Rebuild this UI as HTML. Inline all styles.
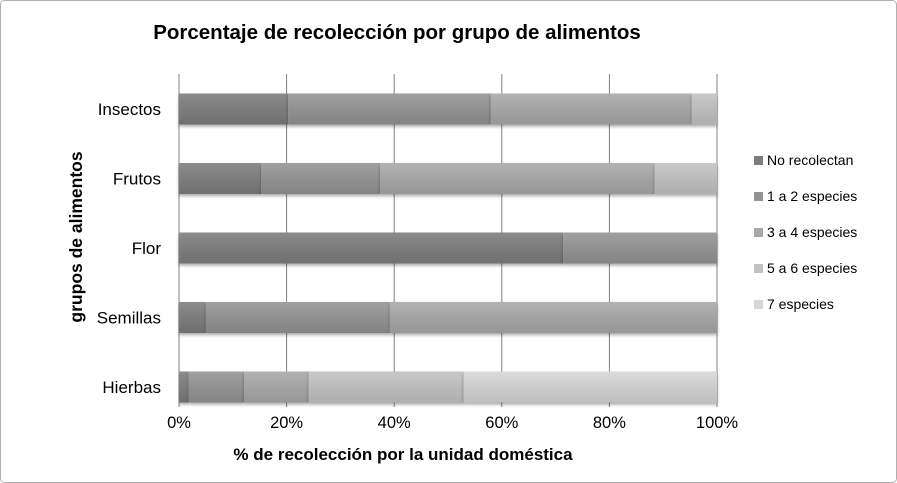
<!DOCTYPE html>
<html><head><meta charset="utf-8"><style>
body{margin:0;background:#fff;}
svg{display:block;font-family:"Liberation Sans",Calibri,sans-serif;}
</style></head><body>
<svg id="chart" width="897" height="483">
<defs>
<linearGradient id="sh" x1="0" y1="0" x2="0" y2="1"><stop offset="0" stop-color="#fff" stop-opacity="0.12"/><stop offset="1" stop-color="#000" stop-opacity="0.1"/></linearGradient>
<filter id="ds" x="-5%" y="-20%" width="110%" height="160%"><feDropShadow dx="0" dy="2" stdDeviation="1.5" flood-color="#000" flood-opacity="0.35"/></filter>
</defs>
<rect x="0.5" y="0.5" width="896" height="482" rx="4" fill="#fff" stroke="#b0b0b0"/>
<text x="397" y="39" text-anchor="middle" font-size="20.5" font-weight="bold" fill="#000">Porcentaje de recolección por grupo de alimentos</text>
<text transform="translate(82,237) rotate(-90)" text-anchor="middle" font-size="17.5" font-weight="bold">grupos  de alimentos</text>
<text x="403" y="460" text-anchor="middle" font-size="17" font-weight="bold">% de recolección por la unidad doméstica</text>
<g id="grid"></g><g id="bars"></g><g id="labels"></g><g id="legend"></g>
</svg>
<script>
const categories=["Insectos","Frutos","Flor","Semillas","Hierbas"];
const seriesNames=["No recolectan","1 a 2 especies","3 a 4 especies","5 a 6 especies","7 especies"];
const noRecolectan=[20.3,15.3,71.4,5.0,1.8];
const unoADos=[37.6,22.1,28.6,34.2,10.3];
const tresACuatro=[37.4,51.0,0,60.8,12.0];
const cincoASeis=[4.7,11.6,0,0,28.8];
const siete=[0,0,0,0,47.1];
const xTicks=[0,20,40,60,80,100];
const series=[noRecolectan,unoADos,tresACuatro,cincoASeis,siete];
const colors=["#7c7c7c","#939393","#a8a8a8","#c2c2c2","#d6d6d6"];
const NS="http://www.w3.org/2000/svg";
const x=v=>179+v*5.38;
const yc=i=>109+i*69.5;
const bh=31;
function mk(t,a,p){const e=document.createElementNS(NS,t);for(const k in a)e.setAttribute(k,a[k]);p.appendChild(e);return e;}
const grid=document.getElementById('grid'),bars=document.getElementById('bars'),labels=document.getElementById('labels'),legend=document.getElementById('legend');
xTicks.forEach(t=>{
 const l=mk('line',{x1:x(t),x2:x(t),y1:74,y2:407,stroke:'#808080','stroke-width':1},grid);
 
 
 const tx=mk('text',{x:x(t),y:428,'text-anchor':'middle','font-size':16.5},labels);tx.textContent=t+'%';
 
 
});
categories.forEach((c,i)=>{
 const tx=mk('text',{x:161,y:yc(i)+6,'text-anchor':'end','font-size':17},labels);tx.textContent=c;
 
 
 let acc=0;
 series.forEach((s,k)=>{
  const v=s[i];if(v<=0)return;
  const r=mk('rect',{x:x(acc),y:yc(i)-bh/2,width:x(acc+v)-x(acc),height:bh,fill:colors[k],filter:'url(#ds)'},bars);
  
  
  mk('rect',{x:x(acc),y:yc(i)-bh/2,width:x(acc+v)-x(acc),height:bh,fill:'url(#sh)'},bars);
  acc+=v;
 });
});
seriesNames.forEach((n,k)=>{
 const y=160+k*36;
 const g=mk('g',{},legend);
 
 
 mk('rect',{x:754,y:y-4,width:9,height:9,fill:colors[k]},g);
 const t=mk('text',{x:767,y:y+5,'font-size':14},g);t.textContent=n;
});
</script>
</body></html>
